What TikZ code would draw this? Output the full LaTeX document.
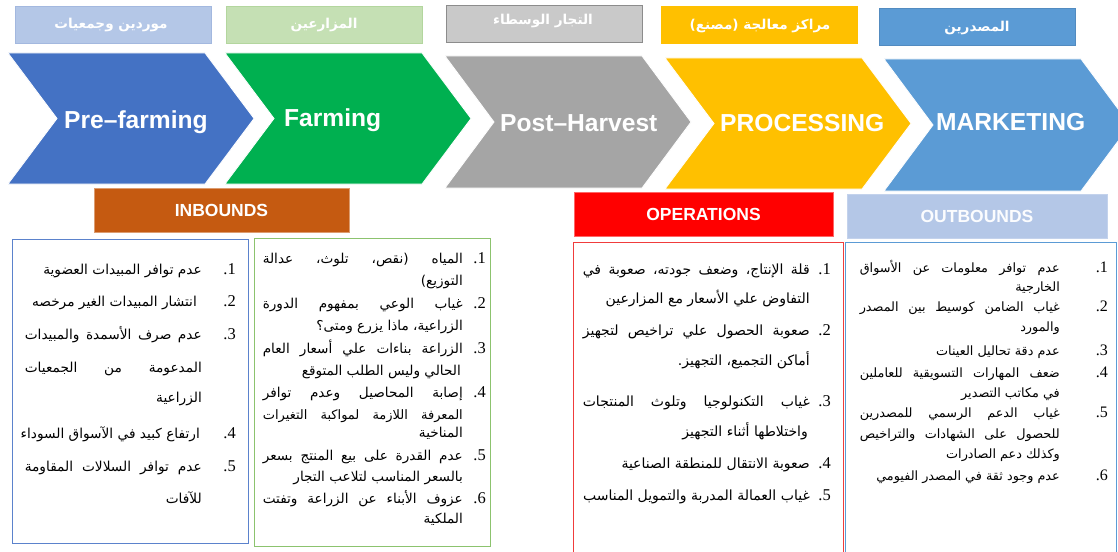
\documentclass[tikz,border=0pt]{standalone}
\usepackage{fontspec}
\setmainfont{Liberation Serif}
\newfontfamily\ar[Script=Arabic]{DejaVu Sans}
\newfontfamily\lsans{Liberation Sans}
\TeXXeTstate=1
\definecolor{hdrA}{HTML}{B4C7E7}
\definecolor{hdrAb}{HTML}{A3B8DF}
\definecolor{hdrB}{HTML}{C5E0B4}
\definecolor{hdrBb}{HTML}{B3D69E}
\definecolor{hdrC}{HTML}{C9C9C9}
\definecolor{hdrCb}{HTML}{8C8C8C}
\definecolor{hdrD}{HTML}{FFC000}
\definecolor{hdrE}{HTML}{5B9BD5}
\definecolor{chA}{HTML}{4472C4}
\definecolor{chB}{HTML}{00B050}
\definecolor{chC}{HTML}{A5A5A5}
\definecolor{chD}{HTML}{FFC000}
\definecolor{chE}{HTML}{5B9BD5}
\definecolor{inb}{HTML}{C55A11}
\definecolor{opr}{HTML}{FF0000}
\definecolor{outb}{HTML}{B4C7E7}
\definecolor{bxA}{HTML}{5B82CC}
\definecolor{bxB}{HTML}{8CC36E}
\definecolor{bxC}{HTML}{F03C3C}
\definecolor{bxD}{HTML}{5B9BD5}
\newcommand\AL[5]{\node[arl,font=\ar\fontsize{#5}{#5}\selectfont,name=#1] at (#2,#3) {#4};}
\newcommand\AJ[6]{\node[arl,font=\ar\fontsize{#6}{#6}\selectfont,name=#1] at (#2,#3) {\makebox[#4pt][s]{#5}};}
\newcommand\NUM[5]{\node[numl,font=\rmfamily\fontsize{#5}{#5}\selectfont,name=#1] at (#2,#3) {#4};}
\newcommand\chevron[4]{\path[fill=#4, draw=white, line width=0.8pt] (#1,#2) -- ({#1+197},#2) -- ({#1+246},{(#2+#3)/2}) -- ({#1+197},#3) -- (#1,#3) -- ({#1+49},{(#2+#3)/2}) -- cycle;}
\begin{document}
\begin{tikzpicture}[x=1pt,y=-1pt,
  arl/.style={anchor=base east, inner sep=0pt, text=black},
  numl/.style={anchor=base east, inner sep=0pt, text=black},
  tophdr/.style={anchor=north west, inner sep=0pt, minimum width=196pt, minimum height=37pt, line width=0.8pt},
  toptext/.style={anchor=base, inner sep=0pt, text=white, font=\ar\bfseries\fontsize{13.6}{16}\selectfont},
  chlabel/.style={anchor=base west, inner sep=0pt, text=white, font=\lsans\bfseries\fontsize{24.6}{28}\selectfont},
  subhdr/.style={inner sep=0pt, minimum width=258pt, minimum height=44pt, line width=0.8pt, font=\lsans\bfseries\fontsize{17.5}{20}\selectfont},
  listbox/.style={anchor=north west, inner sep=0pt, line width=1.1pt}]
\useasboundingbox (0,0) rectangle (1118,551);
\clip (0,0) rectangle (1118,551);
\fill[white] (0,0) rectangle (1118,551);
% top role headers
\node[tophdr, fill=hdrA, draw=hdrAb] (h1) at (15,6) {};
\node[tophdr, fill=hdrB, draw=hdrBb] (h2) at (226,6) {};
\node[tophdr, fill=hdrC, draw=hdrCb] (h3) at (445.5,5) {};
\node[tophdr, fill=hdrD, draw=hdrD] (h4) at (661,6.5) {};
\node[tophdr, fill=hdrE, draw=hdrE!90!black] (h5) at (879,8) {};
\node[toptext] (t1) at (111,29) {\beginR موردين وجمعيات\endR};
\node[toptext] (t2) at (324,29) {\beginR المزارعين\endR};
\node[toptext] (t3) at (543,25) {\beginR التجار الوسطاء\endR};
\node[toptext] (t4) at (760,30) {\beginR مراكز معالجة (مصنع)\endR};
\node[toptext] (t5) at (977,32) {\beginR المصدرين\endR};
% chevrons
\chevron{8}{53}{184}{chA}
\chevron{225}{53}{184}{chB}
\chevron{445}{56}{188}{chC}
\chevron{665}{58}{189}{chD}
\chevron{884}{59}{191}{chE}
\node[chlabel] (c1) at (64,128) {Pre–farming};
\node[chlabel] (c2) at (284,126) {Farming};
\node[chlabel] (c3) at (500,131) {Post–Harvest};
\node[chlabel] (c4) at (720,131) {PROCESSING};
\node[chlabel] (c5) at (936,130) {MARKETING};
% sub headers
\node[subhdr, fill=inb, draw=inb!60!white, text=white, minimum width=255pt] (s1) at (221.5,210) {INBOUNDS};
\node[subhdr, fill=opr, draw=opr!60!white, text=white, minimum width=259pt] (s2) at (703.5,214) {OPERATIONS};
\node[subhdr, fill=outb, draw=outb!80!white, text=white!95!hdrA, minimum width=260pt] (s3) at (977,216) {OUTBOUNDS};
% list boxes
\node[listbox, draw=bxA, minimum width=236pt, minimum height=304pt] (b1) at (12,239) {};
\node[listbox, draw=bxB, minimum width=236pt, minimum height=308pt] (b2) at (254,238) {};
\node[listbox, draw=bxC, minimum width=270pt, minimum height=312pt] (b3) at (573,242) {};
\node[listbox, draw=bxD, minimum width=271pt, minimum height=312pt] (b4) at (845,242) {};
% box 1 texts
\AL{a1}{202}{274}{\beginR عدم توافر المبيدات العضوية\endR}{13.7}
\AL{a2}{197}{306}{\beginR انتشار المبيدات الغير مرخصه\endR}{13.7}
\AJ{a3}{202}{339}{177}{\beginR عدم صرف الأسمدة والمبيدات\endR}{13.7}
\AJ{a3b}{202}{372}{177}{\beginR المدعومة من الجمعيات\endR}{13.7}
\AL{a3c}{202}{402}{\beginR الزراعية\endR}{13.7}
\AL{a4}{200}{438}{\beginR ارتفاع كبيد في الآسواق السوداء\endR}{13.7}
\AJ{a5}{202}{471}{177}{\beginR عدم توافر السلالات المقاومة\endR}{13.7}
\AL{a5b}{202}{503}{\beginR للآفات\endR}{13.7}
\NUM{na1}{236}{274}{.1}{16.5}
\NUM{na2}{236}{306}{.2}{16.5}
\NUM{na3}{236}{339}{.3}{16.5}
\NUM{na4}{236}{438}{.4}{16.5}
\NUM{na5}{236}{471}{.5}{16.5}
% box 2 texts
\AJ{g1}{463}{263}{200}{\beginR المياه (نقص، تلوث، عدالة\endR}{13.6}
\AL{g1b}{463}{285}{\beginR التوزيع)\endR}{13.6}
\AJ{g2}{463}{308}{200}{\beginR غياب الوعي بمفهوم الدورة\endR}{13.6}
\AL{g2b}{463}{330}{\beginR الزراعية، ماذا يزرع ومتى؟\endR}{13.6}
\AJ{g3}{463}{353}{200}{\beginR الزراعة بناءات علي أسعار العام\endR}{13.6}
\AL{g3b}{461}{375}{\beginR الحالي وليس الطلب المتوقع\endR}{13.6}
\AJ{g4}{463}{397}{200}{\beginR إصابة المحاصيل وعدم توافر\endR}{13.6}
\AJ{g4b}{463}{419}{200}{\beginR المعرفة اللازمة لمواكبة التغيرات\endR}{13}
\AL{g4c}{463}{437}{\beginR المناخية\endR}{13.6}
\AJ{g5}{463}{460}{200}{\beginR عدم القدرة على بيع المنتج بسعر\endR}{13.6}
\AL{g5b}{463}{481}{\beginR بالسعر المناسب لتلاعب التجار\endR}{13.6}
\AJ{g6}{463}{503}{200}{\beginR عزوف الأبناء عن الزراعة وتفتت\endR}{13.6}
\AL{g6b}{463}{523}{\beginR الملكية\endR}{13.6}
\NUM{ng1}{486}{263}{.1}{16.5}
\NUM{ng2}{486}{308}{.2}{16.5}
\NUM{ng3}{486}{353}{.3}{16.5}
\NUM{ng4}{486}{397}{.4}{16.5}
\NUM{ng5}{486}{460}{.5}{16.5}
\NUM{ng6}{486}{503}{.6}{16.5}
% box 3 texts
\AJ{r1}{810}{274}{227}{\beginR قلة الإنتاج، وضعف جودته، صعوبة في\endR}{14}
\AL{r1b}{810}{303}{\beginR التفاوض علي الأسعار مع المزارعين\endR}{14}
\AJ{r2}{810}{335}{227}{\beginR صعوبة الحصول علي تراخيص لتجهيز\endR}{14}
\AL{r2b}{810}{365}{\beginR أماكن التجميع، التجهيز.\endR}{14}
\AJ{r3}{810}{406}{227}{\beginR غياب التكنولوجيا وتلوث المنتجات\endR}{14}
\AL{r3b}{808}{436}{\beginR واختلاطها أثناء التجهيز\endR}{14}
\AL{r4}{810}{468}{\beginR صعوبة الانتقال للمنطقة الصناعية\endR}{14}
\AL{r5}{810}{500}{\beginR غياب العمالة المدربة والتمويل المناسب\endR}{14}
\NUM{nr1}{831}{274}{.1}{16.5}
\NUM{nr2}{831}{335}{.2}{16.5}
\NUM{nr3}{831}{406}{.3}{16.5}
\NUM{nr4}{831}{468}{.4}{16.5}
\NUM{nr5}{831}{500}{.5}{16.5}
% box 4 texts
\AJ{o1}{1060}{272}{200}{\beginR عدم توافر معلومات عن الأسواق\endR}{12.8}
\AL{o1b}{1060}{291}{\beginR الخارجية\endR}{12.8}
\AJ{o2}{1060}{311}{200}{\beginR غياب الضامن كوسيط بين المصدر\endR}{12.8}
\AL{o2b}{1060}{331}{\beginR والمورد\endR}{12.8}
\AL{o3}{1060}{355}{\beginR عدم دقة تحاليل العينات\endR}{12.8}
\AJ{o4}{1060}{377}{200}{\beginR ضعف المهارات التسويقية للعاملين\endR}{12.8}
\AL{o4b}{1060}{397}{\beginR في مكاتب التصدير\endR}{12.8}
\AJ{o5}{1060}{417}{200}{\beginR غياب الدعم الرسمي للمصدرين\endR}{12.8}
\AJ{o5b}{1060}{438}{200}{\beginR للحصول على الشهادات والتراخيص\endR}{12.8}
\AL{o5c}{1060}{458}{\beginR وكذلك دعم الصادرات\endR}{12.8}
\AL{o6}{1060}{480}{\beginR عدم وجود ثقة في المصدر الفيومي\endR}{12.8}
\NUM{no1}{1108}{272}{.1}{16}
\NUM{no2}{1108}{311}{.2}{16}
\NUM{no3}{1108}{355}{.3}{16}
\NUM{no4}{1108}{377}{.4}{16}
\NUM{no5}{1108}{417}{.5}{16}
\NUM{no6}{1108}{480}{.6}{16}
\end{tikzpicture}
\end{document}
